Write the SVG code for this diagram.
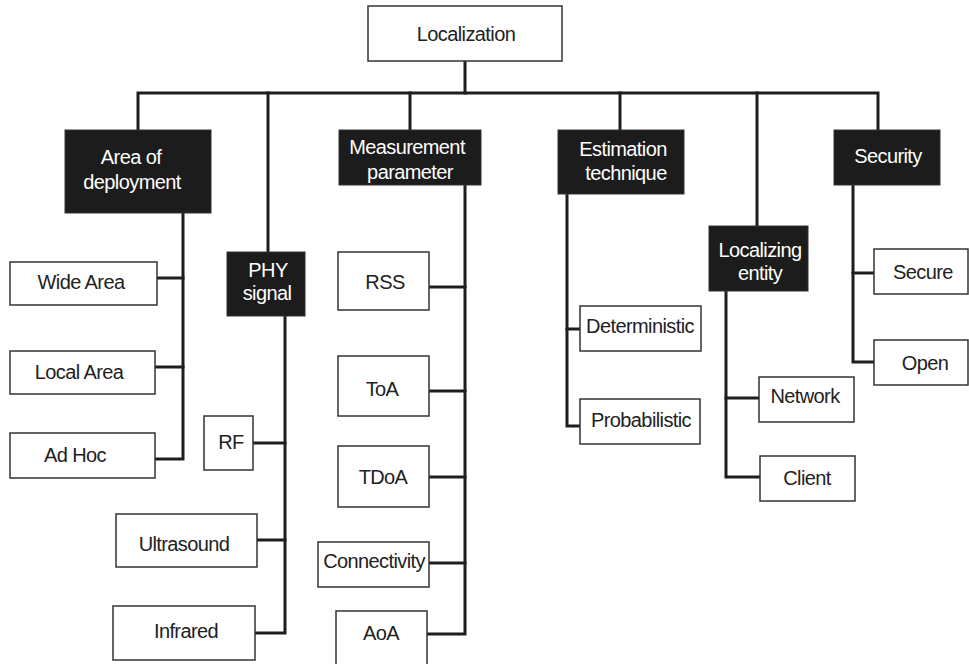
<svg xmlns="http://www.w3.org/2000/svg" width="969" height="664" viewBox="0 0 969 664">
<style>
.box{fill:#fff;stroke:#333;stroke-width:1.5}
.dark{fill:#1c1c1c;stroke:#333;stroke-width:1}
text{font-family:"Liberation Sans",Arial,Helvetica,sans-serif;font-size:20px;text-anchor:middle;letter-spacing:-0.6px}
.t{fill:#222}
.w{fill:#fff}
.conn{fill:none;stroke:#1e1e1e;stroke-width:3;stroke-linejoin:miter;stroke-linecap:square}
</style>
<rect width="969" height="664" fill="#fff"/>
<g id="connectors" class="conn">
<path d="M465,61 V93"/>
<path d="M138,130 V93 H878 V130"/>
<path d="M268,93 V252"/>
<path d="M410,93 V130"/>
<path d="M620,93 V130"/>
<path d="M757,93 V226"/>
<path d="M183,213 V459 H156"/>
<path d="M158,278 H183"/>
<path d="M156,367 H183"/>
<path d="M285,316 V633 H256"/>
<path d="M254,443 H285"/>
<path d="M258,540 H285"/>
<path d="M465,185 V634 H428"/>
<path d="M430,287 H465"/>
<path d="M430,391 H465"/>
<path d="M430,477 H465"/>
<path d="M430,563 H465"/>
<path d="M567,194 V426 H579"/>
<path d="M567,329 H579"/>
<path d="M726,291 V477 H759"/>
<path d="M726,398 H758"/>
<path d="M853,185 V362 H873"/>
<path d="M853,273 H873"/>
</g>
<g id="localization"><rect class="box" x="368" y="6" width="194" height="55"/><text class="t" x="466" y="41">Localization</text></g>
<g id="area-of-deployment"><rect class="dark" x="65" y="130" width="146" height="83"/><text class="w" x="131" y="164">Area of</text><text class="w" x="132" y="189">deployment</text></g>
<g id="phy-signal"><rect class="dark" x="227" y="252" width="78" height="64"/><text class="w" x="268" y="277">PHY</text><text class="w" x="267" y="300">signal</text></g>
<g id="measurement-parameter"><rect class="dark" x="339" y="130" width="142" height="55"/><text class="w" x="407" y="154">Measurement</text><text class="w" x="410" y="179">parameter</text></g>
<g id="estimation-technique"><rect class="dark" x="558" y="130" width="126" height="64"/><text class="w" x="623" y="156">Estimation</text><text class="w" x="626" y="180">technique</text></g>
<g id="localizing-entity"><rect class="dark" x="709" y="226" width="99" height="65"/><text class="w" x="760" y="257">Localizing</text><text class="w" x="760" y="280">entity</text></g>
<g id="security"><rect class="dark" x="834" y="130" width="106" height="55"/><text class="w" x="888" y="163">Security</text></g>
<g id="wide-area"><rect class="box" x="10" y="262" width="147" height="43"/><text class="t" x="81" y="289">Wide Area</text></g>
<g id="local-area"><rect class="box" x="10" y="351" width="145" height="43"/><text class="t" x="79" y="379">Local Area</text></g>
<g id="ad-hoc"><rect class="box" x="10" y="433" width="145" height="45"/><text class="t" x="75" y="462">Ad Hoc</text></g>
<g id="rf"><rect class="box" x="204" y="416" width="49" height="54"/><text class="t" x="231" y="449">RF</text></g>
<g id="ultrasound"><rect class="box" x="116" y="514" width="141" height="53"/><text class="t" x="184" y="551">Ultrasound</text></g>
<g id="infrared"><rect class="box" x="113" y="606" width="142" height="54"/><text class="t" x="186" y="638">Infrared</text></g>
<g id="rss"><rect class="box" x="338" y="252" width="91" height="58"/><text class="t" x="385" y="289">RSS</text></g>
<g id="toa"><rect class="box" x="338" y="356" width="91" height="60"/><text class="t" x="382" y="396">ToA</text></g>
<g id="tdoa"><rect class="box" x="338" y="446" width="91" height="61"/><text class="t" x="383" y="484">TDoA</text></g>
<g id="connectivity"><rect class="box" x="318" y="542" width="111" height="45"/><text class="t" x="374" y="568">Connectivity</text></g>
<g id="aoa"><rect class="box" x="336" y="611" width="91" height="60"/><text class="t" x="381" y="640">AoA</text></g>
<g id="deterministic"><rect class="box" x="580" y="306" width="121" height="45"/><text class="t" x="640" y="333">Deterministic</text></g>
<g id="probabilistic"><rect class="box" x="580" y="399" width="120" height="45"/><text class="t" x="641" y="427">Probabilistic</text></g>
<g id="network"><rect class="box" x="759" y="377" width="95" height="45"/><text class="t" x="805" y="403">Network</text></g>
<g id="client"><rect class="box" x="760" y="456" width="95" height="45"/><text class="t" x="807" y="485">Client</text></g>
<g id="secure"><rect class="box" x="874" y="249" width="94" height="45"/><text class="t" x="923" y="279">Secure</text></g>
<g id="open"><rect class="box" x="874" y="340" width="94" height="45"/><text class="t" x="925" y="370">Open</text></g>
</svg>
